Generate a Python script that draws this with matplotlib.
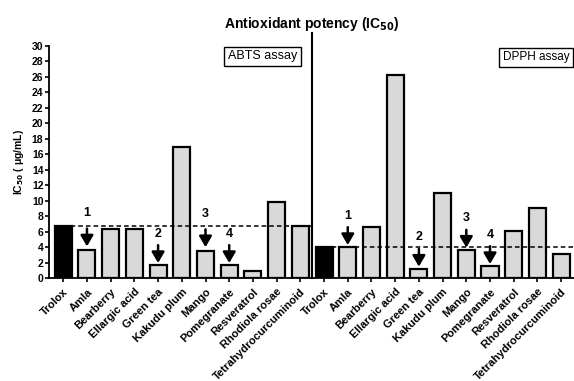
import matplotlib.pyplot as plt
import numpy as np

plt.rcParams.update({
    "font.family": ["Liberation Sans", "DejaVu Sans"],
    "font.weight": "bold",
    "axes.linewidth": 1.3,
})

extracts = ["Trolox", "Amla", "Bearberry", "Ellargic acid", "Green tea", "Kakudu plum",
            "Mango", "Pomegranate", "Resveratrol", "Rhodiola rosae", "Tetrahydrocurcuminoid"]

abts = [6.8, 3.6, 6.3, 6.35, 1.7, 16.9, 3.5, 1.7, 0.9, 9.85, 6.75]
dpph = [4.0, 4.05, 6.6, 26.2, 1.2, 10.95, 3.65, 1.6, 6.1, 9.1, 3.1]

# numbered arrows: (label, extract name)
markers = [("1", "Amla"), ("2", "Green tea"), ("3", "Mango"), ("4", "Pomegranate")]
abts_lift = [1.2, 0.4, 1.2, 0.4]   # extra height of arrows in ABTS panel
dpph_lift = [0.3, 0.5, 0.5, 0.3]

labels = extracts + extracts
values = abts + dpph
x = np.arange(len(values))
n = len(extracts)

fig = plt.figure(figsize=(5.74, 3.81), dpi=100)
ax = fig.add_axes([0.0854, 0.2696, 0.917, 0.6105])

colors = ["black" if name == "Trolox" else "#d9d9d9" for name in labels]
ax.bar(x, values, width=0.72, color=colors, edgecolor="black", linewidth=1.6, zorder=2)

# reference lines at Trolox level
ax.plot([0, n - 0.5], [abts[0], abts[0]], ls=(0, (3, 2)), color="black", lw=1.1, zorder=3)
ax.plot([n, 2 * n - 0.4], [dpph[0], dpph[0]], ls=(0, (3, 2)), color="black", lw=1.1, zorder=3,
        clip_on=False)

# separator between assays
ax.plot([n - 0.5, n - 0.5], [0, 31.6], color="black", lw=1.5, clip_on=False, zorder=3)

for offset, vals, lifts in [(0, abts, abts_lift), (n, dpph, dpph_lift)]:
    for (num, name), lift in zip(markers, lifts):
        i = extracts.index(name)
        v = vals[i]
        tip = v + 0.15 + lift * 0.3
        tail = tip + 2.3
        ax.annotate("", xy=(offset + i, tip), xytext=(offset + i, tail),
                    arrowprops=dict(arrowstyle="-|>,head_width=0.38,head_length=0.65",
                                    color="black", lw=1.8, mutation_scale=10,
                                    shrinkA=0, shrinkB=0), zorder=4)
        ax.text(offset + i, tail + 0.4 + lift * 0.7, num, ha="center", va="bottom",
                fontsize=9, fontweight="bold")

ax.set_xlim(-0.6, 2 * n - 0.4)
ax.set_ylim(0, 30)
ax.set_yticks(np.arange(0, 31, 2))
ax.set_xticks(x)
ax.set_xticklabels(labels, rotation=45, ha="right", rotation_mode="anchor", fontsize=8)
ax.tick_params(axis="y", labelsize=7.5, length=3, width=1.2, pad=1)
ax.tick_params(axis="x", length=3, width=1.2, pad=3)
for s in ["top", "right"]:
    ax.spines[s].set_visible(False)

ax.set_ylabel("IC$_{\\mathbf{50}}$ ( μg/mL)", fontsize=7.5, fontweight="bold", labelpad=4)
ax.set_title("Antioxidant potency (IC$_{\\mathbf{50}}$)", fontsize=10, fontweight="bold", pad=13)

box = dict(boxstyle="square,pad=0.3", facecolor="white", edgecolor="black", lw=1.0)
ax.text(9.85, 29.4, "ABTS assay", ha="right", va="top", fontsize=9, fontweight="normal", bbox=box)
ax.text(21.35, 29.3, "DPPH assay", ha="right", va="top", fontsize=8.5, fontweight="normal",
        bbox=box, clip_on=False)

fig.savefig("out.png", dpi=100)
